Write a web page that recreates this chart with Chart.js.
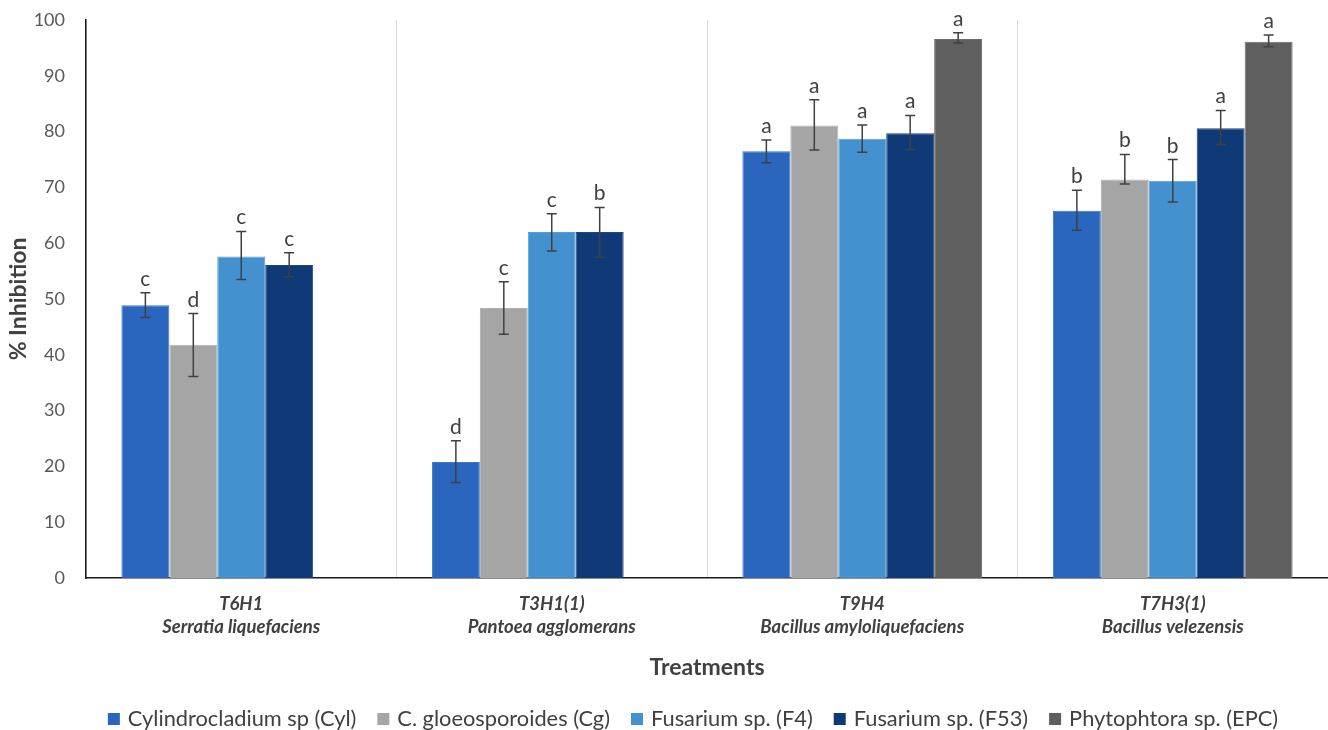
<!DOCTYPE html>
<html>
<head>
<meta charset="utf-8">
<title>% Inhibition by treatment</title>
<script src="https://cdn.jsdelivr.net/npm/chart.js@4.4.1/dist/chart.umd.min.js"></script>
<style>
  html, body { margin: 0; padding: 0; background: #fff; overflow: hidden; }
  #wrap { width: 1328px; height: 730px; }
</style>
</head>
<body>
<div id="wrap"><canvas id="inhibitionChart" width="1328" height="730"></canvas></div>
<script>
// categories (treatment code + species, shown on two lines)
var treatments = [
    ['T6H1', 'Serratia liquefaciens'],
    ['T3H1(1)', 'Pantoea agglomerans'],
    ['T9H4', 'Bacillus amyloliquefaciens'],
    ['T7H3(1)', 'Bacillus velezensis']
];
var seriesNames = ['Cylindrocladium sp (Cyl)', 'C. gloeosporoides (Cg)', 'Fusarium sp. (F4)', 'Fusarium sp. (F53)', 'Phytophtora sp. (EPC)'];
var yTicks = [0, 10, 20, 30, 40, 50, 60, 70, 80, 90, 100];

// mean % inhibition per pathogen
var cylValues = [48.9, 20.8, 76.5, 65.8];
var cgValues  = [41.8, 48.4, 81.1, 71.4];
var f4Values  = [57.6, 62.0, 78.7, 71.2];
var f53Values = [56.1, 62.0, 79.7, 80.6];
var epcValues = [null, null, 96.6, 96.1];

// error bars as [minus, plus]
var cylErr = [[2.2, 2.2], [3.7, 3.8], [2.1, 2.0], [3.5, 3.7]];
var cgErr  = [[5.7, 5.6], [4.7, 4.7], [4.4, 4.6], [0.8, 4.5]];
var f4Err  = [[4.1, 4.5], [3.4, 3.3], [2.4, 2.5], [3.8, 3.8]];
var f53Err = [[2.1, 2.2], [4.5, 4.4], [2.9, 3.2], [2.9, 3.2]];
var epcErr = [null, null, [0.7, 1.1], [0.9, 1.2]];

// significance letters
var cylLetters = ['c', 'd', 'a', 'b'];
var cgLetters  = ['d', 'c', 'a', 'b'];
var f4Letters  = ['c', 'c', 'a', 'b'];
var f53Letters = ['c', 'b', 'a', 'a'];
var epcLetters = [null, null, 'a', 'a'];

var barColors    = ['#2a66be', '#a5a5a5', '#4392cf', '#0f3a77', '#5f5f5f'];
var borderColors = ['#3a76c8', '#b0b0b0', '#539ed6', '#1d4784', '#6a6a6a'];
var FONT = 'Lato, "Open Sans", sans-serif';
var TEXT = '#404040';

var allValues  = [cylValues, cgValues, f4Values, f53Values, epcValues];
var allErr     = [cylErr, cgErr, f4Err, f53Err, epcErr];
var allLetters = [cylLetters, cgLetters, f4Letters, f53Letters, epcLetters];

var datasets = seriesNames.map(function (name, i) {
    return {
        label: name,
        data: allValues[i],
        errors: allErr[i],
        letters: allLetters[i],
        backgroundColor: barColors[i],
        borderColor: borderColors[i],
        borderWidth: 1,
        categoryPercentage: 0.772,
        barPercentage: 1.0
    };
});

// draws error bars + letters above them
var errorBarPlugin = {
    id: 'errorBars',
    afterDatasetsDraw: function (chart) {
        var ctx = chart.ctx;
        var y = chart.scales.y;
        ctx.save();
        chart.data.datasets.forEach(function (ds, i) {
            var meta = chart.getDatasetMeta(i);
            meta.data.forEach(function (bar, j) {
                var v = ds.data[j];
                var e = ds.errors[j];
                if (v == null || !e) return;
                var x = bar.x;
                var top = y.getPixelForValue(v + e[1]);
                var bot = y.getPixelForValue(v - e[0]);
                ctx.strokeStyle = '#404040';
                ctx.lineWidth = 1.5;
                ctx.beginPath();
                ctx.moveTo(x, top); ctx.lineTo(x, bot);
                ctx.moveTo(x - 5, top); ctx.lineTo(x + 5, top);
                ctx.moveTo(x - 5, bot); ctx.lineTo(x + 5, bot);
                ctx.stroke();
                if (ds.letters[j]) {
                    ctx.fillStyle = TEXT;
                    ctx.font = '21px ' + FONT;
                    ctx.textAlign = 'center';
                    ctx.textBaseline = 'alphabetic';
                    ctx.fillText(ds.letters[j], x, top - 7);
                }
            });
        });
        ctx.restore();
    }
};

// legend row at the bottom (Excel style spacing)
var legendPlugin = {
    id: 'bottomLegend',
    afterDraw: function (chart) {
        var ctx = chart.ctx;
        var box = 12, gap = 8, itemGap = 21, cy = 719;
        ctx.save();
        ctx.font = '21.8px ' + FONT;
        var widths = chart.data.datasets.map(function (ds) { return ctx.measureText(ds.label).width; });
        var total = widths.reduce(function (a, w) { return a + box + gap + w; }, 0) + itemGap * (widths.length - 1);
        var x = 693 - total / 2;
        chart.data.datasets.forEach(function (ds, i) {
            ctx.fillStyle = ds.backgroundColor;
            ctx.fillRect(x, cy - box / 2, box, box);
            ctx.fillStyle = TEXT;
            ctx.textAlign = 'left';
            ctx.textBaseline = 'middle';
            ctx.fillText(ds.label, x + box + gap, cy);
            x += box + gap + widths[i] + itemGap;
        });
        ctx.restore();
    }
};

var ctx = document.getElementById('inhibitionChart');
var myChart = new Chart(ctx, {
    type: 'bar',
    data: {
        labels: treatments,
        datasets: datasets
    },
    plugins: [errorBarPlugin, legendPlugin],
    options: {
        responsive: false,
        animation: false,
        layout: { padding: { top: 20, right: 0, left: 0, bottom: 42.8 } },
        plugins: {
            tooltip: { enabled: false },
            legend: { display: false }
        },
        scales: {
            x: {
                grid: { display: true, offset: true, color: '#d9d9d9', lineWidth: 1, drawTicks: false },
                border: { display: true, color: '#1a1a1a', width: 1.5 },
                ticks: {
                    color: TEXT,
                    padding: 15,
                    maxRotation: 0,
                    font: { family: FONT, size: 18.5, style: 'italic', weight: 'bold', lineHeight: 1.24 }
                },
                title: {
                    display: true,
                    text: 'Treatments',
                    color: TEXT,
                    padding: { top: 0, bottom: 6 },
                    font: { family: FONT, size: 23, weight: 'bold' }
                },
                afterFit: function (scale) { scale.height = 109.2; }
            },
            y: {
                min: 0,
                max: 100,
                afterBuildTicks: function (scale) {
                    scale.ticks = yTicks.map(function (v) { return { value: v }; });
                },
                grid: { display: false, drawTicks: false },
                border: { display: true, color: '#1a1a1a', width: 1.5 },
                ticks: {
                    color: '#595959',
                    padding: 21,
                    font: { family: FONT, size: 18 }
                },
                title: {
                    display: true,
                    text: '% Inhibition',
                    color: TEXT,
                    padding: { top: 5, bottom: 0 },
                    font: { family: FONT, size: 23, weight: 'bold' }
                },
                afterFit: function (scale) {
                    scale.width = 86;
                    scale.paddingTop = 11;
                    scale.paddingBottom = 11;
                }
            }
        }
    }
});
</script>
</body>
</html>
